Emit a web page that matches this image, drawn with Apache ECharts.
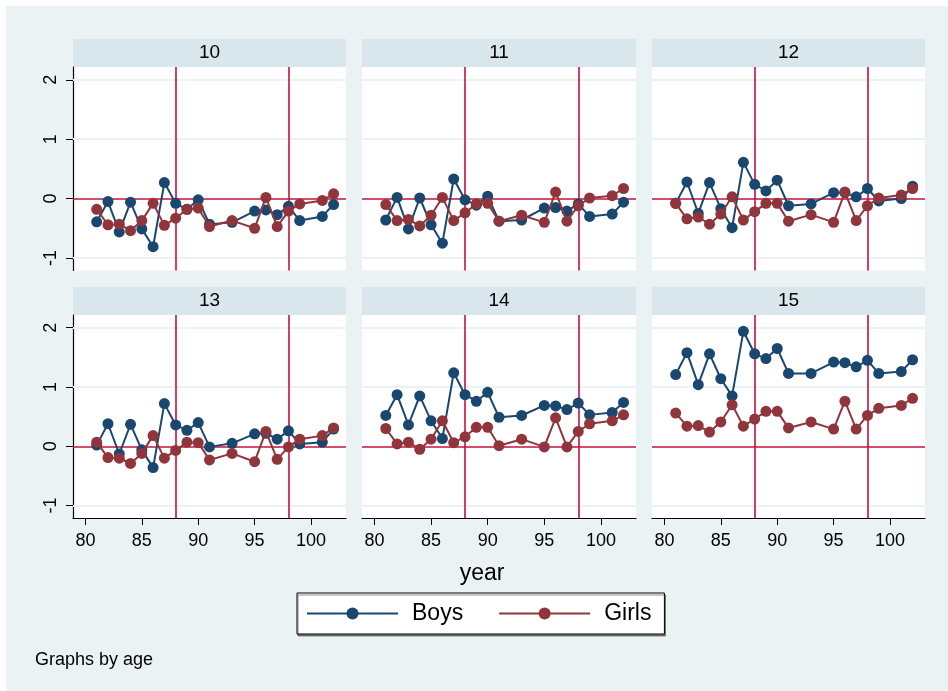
<!DOCTYPE html>
<html>
<head>
<meta charset="utf-8">
<script src="https://cdn.jsdelivr.net/npm/echarts@6/dist/echarts.min.js"></script>
<style>
  html, body { margin: 0; padding: 0; background: #ffffff; }
  #wrap { position: relative; width: 948px; height: 691px; background: #ffffff; }
  #bg { position: absolute; left: 6px; top: 6px; width: 942px; height: 685px; background: #EAF2F3; }
  #chart { position: absolute; left: 0; top: 0; width: 948px; height: 691px; }
</style>
</head>
<body>
<div id="wrap"><div id="bg"></div><div id="chart"></div></div>
<script>
// Survey years (two-digit, 100+ = 2000s)
const years = [81, 82, 83, 84, 85, 86, 87, 88, 89, 90, 91, 93, 95, 96, 97, 98, 99, 101, 102];

// Panel labels (age)
const ages = ['10', '11', '12', '13', '14', '15'];

// Boys series per age
const boys10 = [-0.39, -0.05, -0.56, -0.06, -0.51, -0.81, 0.27, -0.08, -0.18, -0.02, -0.43, -0.40, -0.21, -0.19, -0.27, -0.13, -0.37, -0.30, -0.10];
const boys11 = [-0.36, 0.02, -0.51, 0.01, -0.44, -0.75, 0.33, -0.02, -0.11, 0.04, -0.38, -0.36, -0.16, -0.15, -0.21, -0.09, -0.30, -0.26, -0.06];
const boys12 = [-0.08, 0.28, -0.25, 0.27, -0.17, -0.49, 0.61, 0.24, 0.13, 0.31, -0.12, -0.09, 0.10, 0.10, 0.03, 0.17, -0.04, 0.00, 0.21];
const boys13 = [0.02, 0.38, -0.13, 0.37, -0.06, -0.36, 0.72, 0.36, 0.27, 0.40, -0.01, 0.05, 0.21, 0.22, 0.12, 0.26, 0.04, 0.07, 0.29];
const boys14 = [0.52, 0.87, 0.36, 0.85, 0.43, 0.13, 1.24, 0.87, 0.76, 0.91, 0.49, 0.52, 0.69, 0.68, 0.62, 0.73, 0.53, 0.57, 0.74];
const boys15 = [1.21, 1.58, 1.04, 1.56, 1.14, 0.85, 1.94, 1.56, 1.48, 1.65, 1.23, 1.23, 1.42, 1.41, 1.34, 1.45, 1.23, 1.26, 1.46];

// Girls series per age
const girls10 = [-0.18, -0.44, -0.43, -0.54, -0.37, -0.08, -0.45, -0.33, -0.18, -0.16, -0.47, -0.37, -0.50, 0.02, -0.47, -0.21, -0.09, -0.03, 0.08];
const girls11 = [-0.10, -0.37, -0.35, -0.46, -0.28, 0.02, -0.37, -0.24, -0.09, -0.08, -0.38, -0.28, -0.40, 0.11, -0.38, -0.12, 0.01, 0.05, 0.17];
const girls12 = [-0.08, -0.34, -0.31, -0.43, -0.26, 0.03, -0.36, -0.22, -0.08, -0.08, -0.38, -0.27, -0.40, 0.11, -0.37, -0.12, 0.01, 0.06, 0.17];
const girls13 = [0.07, -0.19, -0.20, -0.29, -0.12, 0.18, -0.20, -0.07, 0.07, 0.06, -0.23, -0.12, -0.26, 0.25, -0.22, -0.01, 0.12, 0.18, 0.31];
const girls14 = [0.30, 0.04, 0.07, -0.05, 0.12, 0.43, 0.06, 0.16, 0.32, 0.32, 0.01, 0.12, -0.01, 0.48, -0.01, 0.25, 0.38, 0.43, 0.53];
const girls15 = [0.56, 0.34, 0.35, 0.24, 0.41, 0.70, 0.34, 0.46, 0.59, 0.59, 0.31, 0.41, 0.29, 0.76, 0.29, 0.52, 0.64, 0.69, 0.81];

// Axis ticks and reference lines
const yTicks = [-1, 0, 1, 2];
const xTicks = [80, 85, 90, 95, 100];
const refYears = [88, 98];
const refLevel = 0;

const boysByAge = [boys10, boys11, boys12, boys13, boys14, boys15];
const girlsByAge = [girls10, girls11, girls12, girls13, girls14, girls15];

const FONT = '"Liberation Sans", Arial, Helvetica, sans-serif';
const BOYS_COLOR = '#1A476F';
const GIRLS_COLOR = '#90353B';
const REF_COLOR = '#C8103C';
const GRID_LINE = '#EAF2F3';
const STRIP = '#D9E6EB';

const cols = [{ left: 73, width: 273 }, { left: 362, width: 274 }, { left: 652, width: 273 }];
const rows = [{ top: 67, height: 203.5 }, { top: 315, height: 203 }];

const grids = [], xAxes = [], yAxes = [], series = [], graphics = [];

ages.forEach((age, i) => {
  const r = Math.floor(i / 3), c = i % 3;
  const isBottom = r === 1, isLeft = c === 0;
  grids.push({
    left: cols[c].left, top: rows[r].top, width: cols[c].width, height: rows[r].height,
    show: true, backgroundColor: '#ffffff', borderWidth: 0, containLabel: false
  });
  xAxes.push({
    type: 'value', gridIndex: i, min: 78.9, max: 103.1,
    splitLine: { show: false },
    axisLine: { show: isBottom, onZero: false, lineStyle: { color: '#000000', width: 1.2 } },
    axisTick: { show: isBottom, customValues: xTicks, length: 7, lineStyle: { color: '#000000', width: 1 } },
    axisLabel: { show: isBottom, customValues: xTicks, fontSize: 18, color: '#000000', fontFamily: FONT, margin: 14 }
  });
  yAxes.push({
    type: 'value', gridIndex: i, min: -1.21, max: 2.215,
    splitLine: { show: false },
    axisLine: { show: isLeft, onZero: false, lineStyle: { color: '#000000', width: 1.2 } },
    axisTick: { show: isLeft, customValues: yTicks, length: 7, lineStyle: { color: '#000000', width: 1 } },
    axisLabel: { show: isLeft, customValues: yTicks, rotate: 90, fontSize: 18, color: '#000000', fontFamily: FONT, margin: 13 }
  });

  // Light grid lines and red reference lines, drawn beneath the data
  series.push({
    type: 'line', xAxisIndex: i, yAxisIndex: i, data: [], z: 1, silent: true,
    markLine: {
      z: 1, silent: true, symbol: 'none', animation: false, label: { show: false },
      data: yTicks.filter(v => v !== refLevel).map(v => ({ yAxis: v, lineStyle: { color: GRID_LINE, width: 2, type: 'solid' } }))
    }
  });
  series.push({
    type: 'line', xAxisIndex: i, yAxisIndex: i, data: [], z: 2, silent: true,
    markLine: {
      z: 2, silent: true, symbol: 'none', animation: false, label: { show: false },
      lineStyle: { color: REF_COLOR, width: 1.6, type: 'solid' },
      data: [{ yAxis: refLevel }].concat(refYears.map(y => ({ xAxis: y })))
    }
  });

  series.push({
    name: 'Boys', type: 'line', xAxisIndex: i, yAxisIndex: i, z: 3,
    data: years.map((y, k) => [y, boysByAge[i][k]]),
    symbol: 'circle', symbolSize: 11, showAllSymbol: true,
    lineStyle: { color: BOYS_COLOR, width: 2 },
    itemStyle: { color: BOYS_COLOR }
  });
  series.push({
    name: 'Girls', type: 'line', xAxisIndex: i, yAxisIndex: i, z: 4,
    data: years.map((y, k) => [y, girlsByAge[i][k]]),
    symbol: 'circle', symbolSize: 11, showAllSymbol: true,
    lineStyle: { color: GIRLS_COLOR, width: 2 },
    itemStyle: { color: GIRLS_COLOR }
  });

  // Panel header strip
  const stripTop = rows[r].top - 28;
  graphics.push({
    type: 'rect', z: 0,
    shape: { x: cols[c].left, y: stripTop, width: cols[c].width, height: 28 },
    style: { fill: STRIP }
  });
  graphics.push({
    type: 'text', z: 1,
    x: cols[c].left + cols[c].width / 2, y: stripTop + 14,
    style: { text: age, fill: '#000000', font: '19px ' + FONT, align: 'center', verticalAlign: 'middle' }
  });
});

graphics.push({
  type: 'text', x: 482, y: 574,
  style: { text: 'year', fill: '#000000', font: '23px ' + FONT, align: 'center', verticalAlign: 'middle' }
});
graphics.push({
  type: 'text', x: 35, y: 660,
  style: { text: 'Graphs by age', fill: '#000000', font: '18px ' + FONT, align: 'left', verticalAlign: 'middle' }
});

const chart = echarts.init(document.getElementById('chart'), null, { renderer: 'canvas' });
chart.setOption({
  backgroundColor: 'transparent',
  animation: false,
  grid: grids,
  xAxis: xAxes,
  yAxis: yAxes,
  series: series,
  graphic: graphics,
  legend: {
    data: ['Boys', 'Girls'],
    left: 297, top: 593,
    orient: 'horizontal',
    backgroundColor: '#ffffff',
    borderColor: '#000000', borderWidth: 1,
    shadowColor: 'rgba(0,0,0,0.45)', shadowOffsetX: 1, shadowOffsetY: 2, shadowBlur: 0,
    padding: [9, 13, 9, 9],
    itemGap: 35, itemWidth: 91, itemHeight: 15,
    selectedMode: false,
    textStyle: { fontSize: 23, color: '#000000', fontFamily: FONT, padding: [0, 0, 0, 9] }
  }
});
</script>
</body>
</html>
